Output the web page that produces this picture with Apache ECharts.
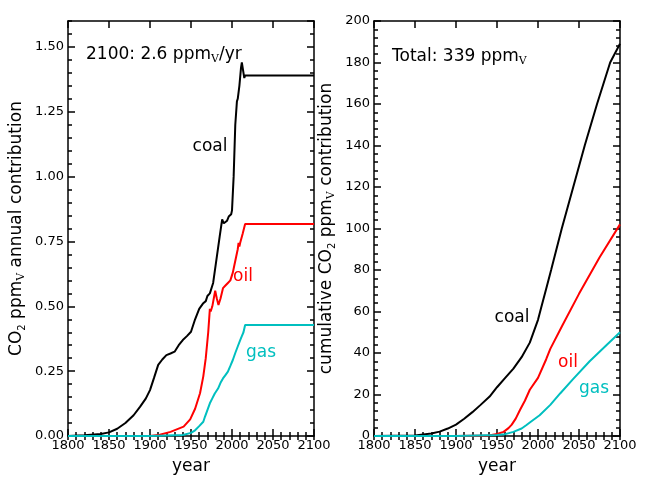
<!DOCTYPE html>
<html>
<head>
<meta charset="utf-8">
<script src="https://cdn.jsdelivr.net/npm/echarts@6/dist/echarts.min.js"></script>
<style>
html,body{margin:0;padding:0;background:#fff;}
#chart{width:650px;height:484px;}
</style>
</head>
<body>
<div id="chart"></div>
<script>
// ---- data ----
const coalAnnualYear = [1800,1820,1840,1850,1860,1870,1880,1888,1895,1900,1905,1910,1915,1920,1925,1930,1935,1940,1945,1950,1955,1960,1965,1968,1970,1973,1977,1981,1985,1988,1990,1992,1994,1996,1999,2000,2002,2004,2006,2007,2008,2009,2011,2012,2013,2014,2015,2016,2100];
const coalAnnual = [0,0.003,0.008,0.014,0.028,0.05,0.08,0.113,0.145,0.177,0.225,0.274,0.295,0.312,0.318,0.325,0.35,0.37,0.385,0.402,0.45,0.49,0.512,0.52,0.54,0.55,0.59,0.68,0.77,0.835,0.82,0.825,0.83,0.846,0.855,0.87,1.0,1.2,1.29,1.30,1.30,1.35,1.42,1.44,1.44,1.40,1.38,1.39,1.39];

const oilAnnualYear = [1800,1900,1912,1925,1941,1949,1955,1961,1965,1968,1971,1973,1974,1976,1979.5,1981.5,1983.5,1986,1989,1992,1995,1998,2001,2003,2005,2007,2008,2009,2010,2013,2016,2100];
const oilAnnual = [0,0,0.005,0.016,0.036,0.064,0.105,0.165,0.23,0.30,0.40,0.49,0.48,0.50,0.56,0.53,0.505,0.53,0.57,0.58,0.59,0.60,0.63,0.66,0.69,0.72,0.745,0.73,0.745,0.78,0.817,0.817];

const gasAnnualYear = [1800,1900,1940,1950,1955,1960,1965,1967,1970,1973,1976,1979,1983,1986,1989,1992,1995,1998,2001,2004,2007,2010,2012,2014,2016,2100];
const gasAnnual = [0,0,0.004,0.012,0.022,0.038,0.055,0.074,0.10,0.126,0.145,0.164,0.183,0.205,0.222,0.235,0.248,0.27,0.293,0.32,0.345,0.37,0.385,0.40,0.428,0.428];

const coalCumYear = [1800,1850,1870,1880,1890,1900,1910,1920,1930,1941,1950,1960,1970,1980,1990,2000,2004,2010,2016,2029,2043,2057,2072,2088,2100];
const coalCum = [0,0.3,1.2,2.1,3.6,5.5,8.3,11.5,15,19,23.5,28,32.5,38,45,56,62,71,80,100,120,140,160,180,189];

const oilCumYear = [1800,1900,1940,1950,1958,1964,1968,1973,1978,1984,1990,2000,2010,2015,2030,2050,2075,2100];
const oilCum = [0,0,0.3,1.0,2,3.8,5.5,8.5,12.5,17,22.3,28,37,42,53.5,68.5,86,102];

const gasCumYear = [1800,1900,1950,1960,1970,1980,1986,1990,2002,2015,2027,2043,2063,2084,2100];
const gasCum = [0,0,0.5,0.9,2,3.6,5.3,6.5,10,15,20.5,27.5,36,44,50];

const seriesNames = ['coal','oil','gas'];
const seriesColors = ['#000000','#ff0000','#00bfbf'];
const leftTotalText = '2100: 2.6 ppm';
const rightTotalText = 'Total: 339 ppm';

// ---- chart ----
const FONT = 'DejaVu Sans';
const pair = (xs, ys) => xs.map((x, i) => [x, ys[i]]);
function rich() {
  return {
    a: {fontFamily: FONT, fontSize: 17, lineHeight: 20, verticalAlign: 'middle', color: '#000'},
    s: {fontFamily: FONT, fontSize: 10, lineHeight: 12, verticalAlign: 'bottom', color: '#000'},
    v: {fontFamily: 'DejaVu Serif', fontSize: 11, lineHeight: 12, verticalAlign: 'bottom', color: '#000'}
  };
}
const frame = () => ({show: true, onZero: false, lineStyle: {color: '#000', width: 1.5}});
const tick = len => ({show: true, inside: true, length: len, lineStyle: {color: '#000', width: 1.5}});

// one axis: major (with frame line, optional labels) or minor (ticks only)
function axis(dim, grid, pos, min, max, interval, isMajor, labelOpt, nameOpt) {
  const ax = {type: 'value', gridIndex: grid, position: pos, min, max, interval,
    splitLine: {show: false},
    axisLine: isMajor ? frame() : {show: false},
    axisTick: tick(isMajor ? 7 : 4),
    axisLabel: labelOpt ? Object.assign({show: true, color: '#000', fontFamily: FONT, fontSize: 13}, labelOpt) : {show: false}};
  if (nameOpt) Object.assign(ax, {nameLocation: 'middle'}, nameOpt);
  return ax;
}
const xLabel = {margin: 3, formatter: v => String(v)};
const xName = {name: 'year', nameGap: 22, nameTextStyle: {fontFamily: FONT, fontSize: 17, color: '#000'}};

const xAxes = [];
[0, 1].forEach(g => {
  xAxes.push(axis('x', g, 'bottom', 1800, 2100, 50, true, xLabel, xName));
  xAxes.push(axis('x', g, 'bottom', 1800, 2100, 10, false));
  xAxes.push(axis('x', g, 'top', 1800, 2100, 50, true));
  xAxes.push(axis('x', g, 'top', 1800, 2100, 10, false));
});
const yAxes = [
  axis('y', 0, 'left', 0, 1.6, 0.25, true, {margin: 4, showMaxLabel: false, formatter: v => v.toFixed(2)},
    {name: '{a|CO}{s|2}{a| ppm}{v|V}{a| annual contribution}', nameGap: 41, nameTextStyle: {rich: rich()}}),
  axis('y', 0, 'left', 0, 1.6, 0.05, false),
  axis('y', 0, 'right', 0, 1.6, 0.25, true),
  axis('y', 0, 'right', 0, 1.6, 0.05, false),
  axis('y', 1, 'left', 0, 200, 20, true, {margin: 4},
    {name: '{a|cumulative CO}{s|2}{a| ppm}{v|V}{a| contribution}', nameGap: 37, nameTextStyle: {rich: rich()}}),
  axis('y', 1, 'left', 0, 200, 4, false),
  axis('y', 1, 'right', 0, 200, 20, true),
  axis('y', 1, 'right', 0, 200, 4, false)
];

function mkSeries(name, color, data, xi, yi) {
  return {type: 'line', name, data, xAxisIndex: xi, yAxisIndex: yi, showSymbol: false, symbol: 'none',
    clip: false, lineStyle: {color, width: 2}, itemStyle: {color}};
}

const leftData = [pair(coalAnnualYear, coalAnnual), pair(oilAnnualYear, oilAnnual), pair(gasAnnualYear, gasAnnual)];
const rightData = [pair(coalCumYear, coalCum), pair(oilCumYear, oilCum), pair(gasCumYear, gasCum)];

function label(x, y, text, color) {
  return {type: 'text', x, y, silent: true,
    style: {text, fill: color, font: '17px "' + FONT + '"', align: 'center', verticalAlign: 'middle'}};
}
function richLabel(x, y, main, tail) {
  return {type: 'text', x, y, silent: true,
    style: {text: '{a|' + main + '}{v|V}' + (tail ? '{a|' + tail + '}' : ''), rich: rich(),
      align: 'left', verticalAlign: 'middle'}};
}

const option = {
  animation: false,
  grid: [
    {left: 68, top: 21, width: 246, height: 415},
    {left: 374, top: 21, width: 246, height: 415}
  ],
  xAxis: xAxes,
  yAxis: yAxes,
  series: [
    mkSeries(seriesNames[0], seriesColors[0], leftData[0], 0, 0),
    mkSeries(seriesNames[1], seriesColors[1], leftData[1], 0, 0),
    mkSeries(seriesNames[2], seriesColors[2], leftData[2], 0, 0),
    mkSeries(seriesNames[0], seriesColors[0], rightData[0], 4, 4),
    mkSeries(seriesNames[1], seriesColors[1], rightData[1], 4, 4),
    mkSeries(seriesNames[2], seriesColors[2], rightData[2], 4, 4)
  ],
  graphic: [
    richLabel(86, 55, leftTotalText, '/yr'),
    richLabel(392, 57, rightTotalText, ''),
    label(210, 147, seriesNames[0], seriesColors[0]),
    label(243, 277, seriesNames[1], seriesColors[1]),
    label(261, 353, seriesNames[2], seriesColors[2]),
    label(512, 318, seriesNames[0], seriesColors[0]),
    label(568, 363, seriesNames[1], seriesColors[1]),
    label(594, 389, seriesNames[2], seriesColors[2])
  ]
};
const chart = echarts.init(document.getElementById('chart'));
chart.setOption(option);
</script>
</body>
</html>
